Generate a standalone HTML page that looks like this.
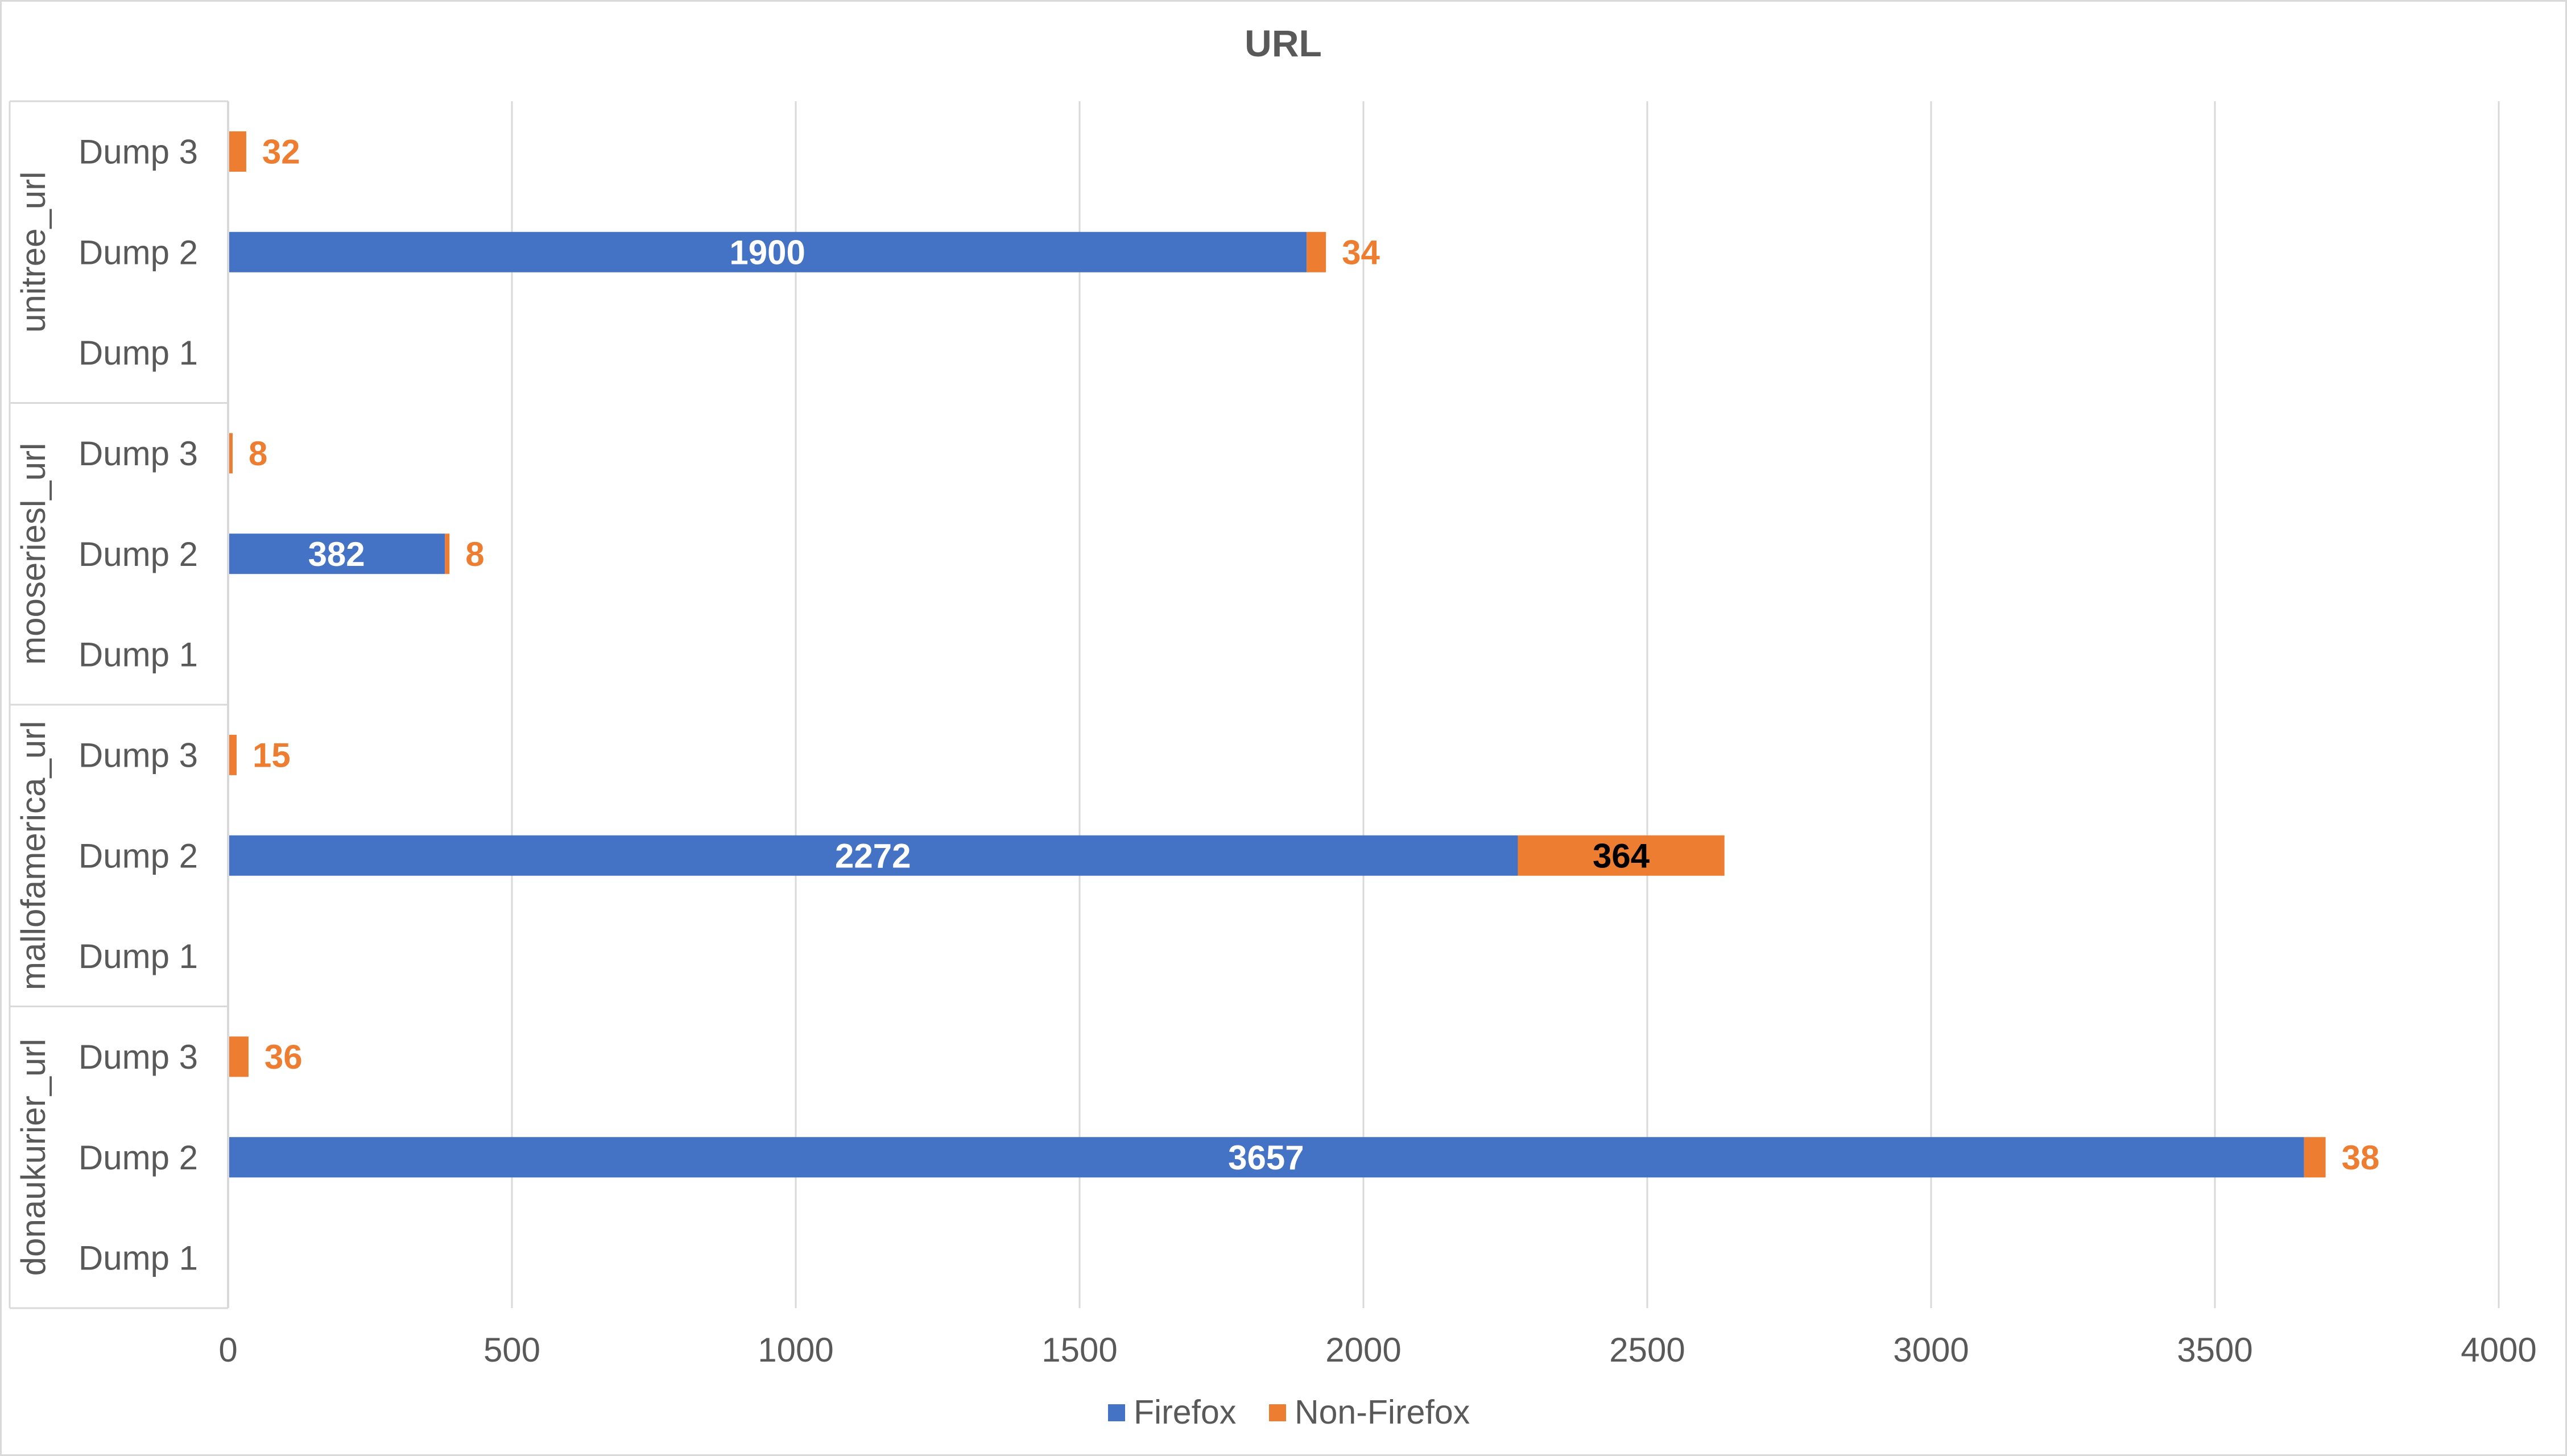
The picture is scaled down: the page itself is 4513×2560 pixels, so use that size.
<!DOCTYPE html>
<html><head><meta charset="utf-8"><style>
html,body{margin:0;padding:0;background:#fff;}
svg{display:block;font-family:"Liberation Sans",Arial,sans-serif;}
</style></head><body>
<svg id="chart" width="4513" height="2560" viewBox="0 0 4513 2560" xmlns="http://www.w3.org/2000/svg">
<rect x="1.5" y="1.5" width="4510" height="2557" fill="#fff" stroke="#d9d9d9" stroke-width="3"/>
<text x="2256" y="99" text-anchor="middle" font-size="66" font-weight="bold" fill="#595959">URL</text>
<g id="grid"></g><g id="bars"></g><g id="labels"></g><g id="axis"></g>
<g>
<rect x="1948" y="2469" width="30" height="30" fill="#4472c4"/>
<text x="1993" y="2503" font-size="59" fill="#595959">Firefox</text>
<rect x="2231" y="2469" width="30" height="30" fill="#ed7d31"/>
<text x="2276" y="2503" font-size="59" fill="#595959">Non-Firefox</text>
</g>
</svg>
<script>
const groups = ["donaukurier_url","mallofamerica_url","mooseriesl_url","unitree_url"];
const dumps = ["Dump 1","Dump 2","Dump 3"];
const firefox = [[0,3657,0],[0,2272,0],[0,382,0],[0,1900,0]];
const nonFirefox = [[0,38,36],[0,364,15],[0,8,8],[0,34,32]];
const ticks = [0,500,1000,1500,2000,2500,3000,3500,4000];

const NS="http://www.w3.org/2000/svg";
const X0=401,X1=4393,MAX=4000,TOP=178,BOT=2300;
const nRows=groups.length*dumps.length, rowH=(BOT-TOP)/nRows, barH=71;
const FS=60;
function xs(v){return X0+(X1-X0)*v/MAX;}
function rowC(g,d){const idx=g*dumps.length+d;return BOT-(idx+0.5)*rowH;}
function mk(tag,attrs,parent,text){const e=document.createElementNS(NS,tag);for(const k in attrs)e.setAttribute(k,attrs[k]);if(text!==undefined)e.textContent=text;parent.appendChild(e);return e;}
const grid=document.getElementById('grid'),bars=document.getElementById('bars'),labels=document.getElementById('labels'),axis=document.getElementById('axis');
ticks.forEach(t=>{
  const l=mk('line',{x1:xs(t),x2:xs(t),y1:TOP,y2:BOT,stroke:'#d9d9d9','stroke-width':3},grid);
  
  
  const tx=mk('text',{x:xs(t),y:2394,'text-anchor':'middle','font-size':FS,fill:'#595959'},axis,String(t));
  
  
});
const ax=mk('line',{x1:X0,x2:X0,y1:TOP,y2:BOT,stroke:'#d9d9d9','stroke-width':4},axis);


const lb=mk('line',{x1:17,x2:17,y1:TOP,y2:BOT,stroke:'#d9d9d9','stroke-width':3},axis);


for(let g=0;g<=groups.length;g++){
  const y=BOT-g*dumps.length*rowH;
  const s=mk('line',{x1:17,x2:X0,y1:y,y2:y,stroke:'#d9d9d9','stroke-width':3},axis);
  
  
}
groups.forEach((gname,g)=>{
  const cy=(rowC(g,0)+rowC(g,dumps.length-1))/2;
  const gt=mk('text',{x:0,y:0,transform:`translate(79 ${cy}) rotate(-90)`,'text-anchor':'middle','font-size':FS,fill:'#595959'},axis,gname);
  
  
  dumps.forEach((dn,d)=>{
    const cyr=rowC(g,d);
    const dt=mk('text',{x:348,y:cyr+21,'text-anchor':'end','font-size':FS,fill:'#595959'},axis,dn);
    
    
    const f=firefox[g][d],n=nonFirefox[g][d];
    if(f>0){
      const r=mk('rect',{x:xs(0),y:cyr-barH/2,width:xs(f)-xs(0),height:barH,fill:'#4472c4'},bars);
      
      
      const t=mk('text',{x:(xs(0)+xs(f))/2,y:cyr+21,'text-anchor':'middle','font-size':FS,'font-weight':'bold',fill:'#fff'},labels,String(f));
      
      
    }
    if(n>0){
      const r=mk('rect',{x:xs(f),y:cyr-barH/2,width:xs(f+n)-xs(f),height:barH,fill:'#ed7d31'},bars);
      
      
      const w=xs(f+n)-xs(f);
      let t;
      if(w>150){
        t=mk('text',{x:(xs(f)+xs(f+n))/2,y:cyr+21,'text-anchor':'middle','font-size':FS,'font-weight':'bold',fill:'#000'},labels,String(n));
      }else{
        t=mk('text',{x:xs(f+n)+28,y:cyr+21,'font-size':FS,'font-weight':'bold',fill:'#ed7d31'},labels,String(n));
      }
      
      
    }
  });
});
</script>
</body></html>
